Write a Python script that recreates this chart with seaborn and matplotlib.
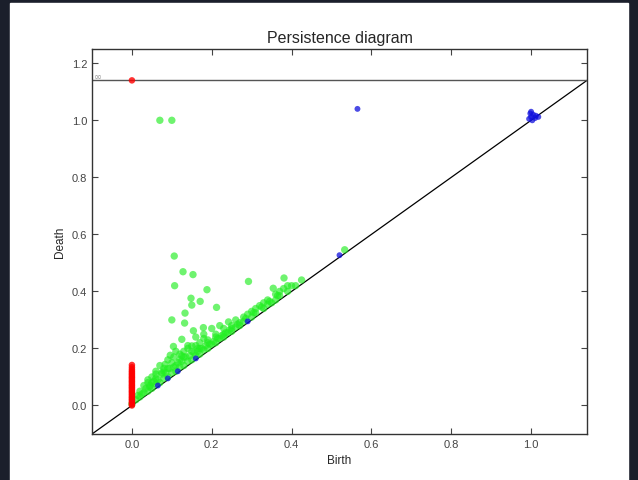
import numpy as np
import seaborn as sns
import matplotlib.pyplot as plt
import matplotlib.patches as mpatches

# H0 (red): birth always 0, one class never dies
h0_birth = [0.0] * 31
h0_death = [np.inf, 0.0, 0.004, 0.009, 0.013, 0.018, 0.022, 0.027, 0.031, 0.036, 0.041,
            0.046, 0.05, 0.055, 0.06, 0.064, 0.069, 0.073, 0.078, 0.083, 0.087, 0.092,
            0.097, 0.101, 0.106, 0.111, 0.116, 0.121, 0.127, 0.134, 0.142]

# H1 (green)
h1_birth = [0.07, 0.10,
            0.106, 0.128, 0.153, 0.107, 0.188, 0.148, 0.171, 0.15, 0.212, 0.133, 0.10,
            0.132, 0.242, 0.179, 0.154, 0.125, 0.104, 0.15, 0.096, 0.083, 0.125, 0.292,
            0.381, 0.354, 0.425, 0.533,
            0.11, 0.14, 0.16, 0.18, 0.20, 0.22, 0.17, 0.19, 0.21, 0.13, 0.12, 0.09, 0.075,
            0.06, 0.05, 0.045, 0.23, 0.26, 0.28, 0.30, 0.32, 0.34, 0.36, 0.38, 0.40, 0.35,
            0.27, 0.25,
            0.0, 0.01, 0.02, 0.03, 0.04, 0.05, 0.06, 0.07, 0.08, 0.09, 0.10, 0.11, 0.12,
            0.13, 0.14, 0.15, 0.16, 0.17, 0.18, 0.19, 0.20, 0.21, 0.22, 0.23, 0.24, 0.25,
            0.26, 0.27, 0.28, 0.30, 0.31, 0.33, 0.34, 0.36, 0.37, 0.39, 0.41,
            0.02, 0.03, 0.04, 0.05, 0.06, 0.07, 0.08, 0.10, 0.11, 0.13, 0.15, 0.17, 0.19,
            0.21, 0.23, 0.25, 0.29, 0.31, 0.33, 0.37, 0.39,
            0.015, 0.025, 0.035, 0.045, 0.055, 0.065, 0.075, 0.085, 0.095, 0.105, 0.115,
            0.125, 0.135, 0.145, 0.155, 0.165, 0.175, 0.185, 0.195, 0.205, 0.215, 0.225,
            0.235, 0.245, 0.265, 0.285, 0.305, 0.325, 0.345, 0.365,
            0.04, 0.06, 0.08, 0.09, 0.12, 0.14, 0.16, 0.18, 0.105, 0.165]
h1_death = [1.0, 1.0,
            0.524, 0.469, 0.459, 0.42, 0.406, 0.376, 0.365, 0.352, 0.344, 0.324, 0.30,
            0.289, 0.293, 0.273, 0.262, 0.232, 0.207, 0.209, 0.176, 0.144, 0.174, 0.435,
            0.447, 0.411, 0.44, 0.546,
            0.19, 0.21, 0.24, 0.25, 0.27, 0.28, 0.22, 0.23, 0.25, 0.17, 0.16, 0.13, 0.115,
            0.095, 0.08, 0.07, 0.27, 0.30, 0.31, 0.33, 0.35, 0.37, 0.39, 0.41, 0.42, 0.36,
            0.29, 0.28,
            0.005, 0.02, 0.03, 0.045, 0.05, 0.06, 0.075, 0.08, 0.095, 0.10, 0.115, 0.12,
            0.135, 0.14, 0.155, 0.16, 0.175, 0.18, 0.195, 0.20, 0.215, 0.22, 0.235, 0.24,
            0.255, 0.26, 0.275, 0.28, 0.295, 0.31, 0.325, 0.34, 0.355, 0.37, 0.385, 0.40,
            0.42,
            0.05, 0.07, 0.09, 0.10, 0.12, 0.14, 0.12, 0.15, 0.14, 0.19, 0.19, 0.20, 0.22,
            0.24, 0.25, 0.27, 0.32, 0.34, 0.36, 0.40, 0.42,
            0.035, 0.04, 0.06, 0.065, 0.085, 0.09, 0.11, 0.115, 0.13, 0.135, 0.15,
            0.155, 0.17, 0.175, 0.185, 0.19, 0.2, 0.21, 0.215, 0.225, 0.235, 0.245,
            0.255, 0.265, 0.285, 0.305, 0.325, 0.345, 0.365, 0.385,
            0.08, 0.11, 0.13, 0.16, 0.18, 0.2, 0.21, 0.235, 0.17, 0.2]

# H2 (blue)
h2_birth = [0.565, 0.995, 1.0, 1.0, 1.005, 1.01, 1.018, 0.998, 1.003, 1.012,
            0.29, 0.52, 0.16, 0.115, 0.065, 0.09]
h2_death = [1.04, 1.005, 1.012, 1.03, 1.02, 1.008, 1.012, 1.024, 1.0, 1.016,
            0.295, 0.527, 0.165, 0.12, 0.07, 0.095]

inf_value = 1.14

sns.set_style("ticks")
plt.rcParams['font.family'] = ['Liberation Sans', 'DejaVu Sans']

fig = plt.figure(figsize=(6.38, 4.81), dpi=100, facecolor='#1b1f2b')
fig.patches.append(mpatches.Rectangle((10 / 638, 0), 618 / 638, 477 / 481,
                                      transform=fig.transFigure, color='white', zorder=-10))
ax = fig.add_axes([92 / 638, 46 / 481, 495 / 638, 385 / 481])
ax.set_facecolor('white')

h0_d = [inf_value if np.isinf(d) else d for d in h0_death]

ax.plot([-0.1, inf_value], [-0.1, inf_value], color='black', lw=0.9, zorder=1)
ax.axhline(inf_value, color='#555555', lw=1.0, zorder=1)
ax.text(-0.097, inf_value, r'$\infty$', fontsize=7, color='#999999', va='bottom', ha='left')

sns.scatterplot(x=h1_birth, y=h1_death, color='#22ee22', alpha=0.65, s=28,
                edgecolor='none', ax=ax, zorder=2)
sns.scatterplot(x=h0_birth, y=h0_d, color='red', alpha=0.8, s=22,
                edgecolor='none', ax=ax, zorder=3)
sns.scatterplot(x=h2_birth, y=h2_death, color='#1010dd', alpha=0.75, s=18,
                edgecolor='none', ax=ax, zorder=3)

ax.set_xlim(-0.1, inf_value)
ax.set_ylim(-0.1, 1.25)
ax.set_xticks([0.0, 0.2, 0.4, 0.6, 0.8, 1.0])
ax.set_yticks([0.0, 0.2, 0.4, 0.6, 0.8, 1.0, 1.2])
ax.tick_params(direction='in', top=True, right=True, length=4, width=0.8,
               labelsize=8, colors='#444444')
for sp in ax.spines.values():
    sp.set_color('#333333')
    sp.set_linewidth(1.0)

ax.set_title('Persistence diagram', fontsize=11.5, pad=5)
ax.set_xlabel('Birth', fontsize=8.5)
ax.set_ylabel('Death', fontsize=8.5)

fig.savefig('out.png', dpi=100, facecolor=fig.get_facecolor())
